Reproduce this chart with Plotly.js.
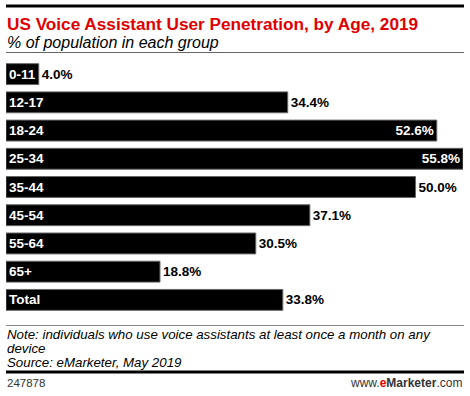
<!DOCTYPE html>
<html><head><meta charset="utf-8">
<script src="https://cdn.plot.ly/plotly-3.0.1.min.js"></script>
<style>html,body{margin:0;padding:0;background:#fff}</style>
</head><body><div id="chart" style="width:470px;height:396px"></div>
<script>
var categories = ["0-11","12-17","18-24","25-34","35-44","45-54","55-64","65+","Total"];
var values = [4.0,34.4,52.6,55.8,50.0,37.1,30.5,18.8,33.8];
var valueLabels = ["4.0%","34.4%","52.6%","55.8%","50.0%","37.1%","30.5%","18.8%","33.8%"];
var labelPos = ["outside","outside","inside","inside","outside","outside","outside","outside","outside"];
var noteLines = ["Note: individuals who use voice assistants at least once a month on any","device","Source: eMarketer, May 2019"];

var W = 470, H = 396;
function px(x){return x/W;}
function py(y){return 1 - y/H;}
var font = "Liberation Sans, Arial, sans-serif";

var trace = {
  type: "bar", orientation: "h",
  y: categories, x: values,
  text: valueLabels, textposition: labelPos,
  insidetextanchor: "end",
  insidetextfont: {color: "#fff", family: font, size: 13.5, weight: "bold"},
  outsidetextfont: {color: "#000", family: font, size: 13.5, weight: "bold"},
  textfont: {family: font, size: 13.5, weight: "bold"},
  cliponaxis: false,
  constraintext: "none",
  marker: {color: "#000", line: {color: "#666", width: 1}},
  hoverinfo: "none"
};

var annotations = categories.map(function(c){
  return {x: 0, y: c, xref: "x", yref: "y", text: "<b>" + c + "</b>", showarrow: false,
    xanchor: "left", xshift: 1, font: {family: font, size: 13.5, color: "#fff"}};
});
annotations.push(
  {x: px(5), y: py(23.5), xref: "paper", yref: "paper", xanchor: "left", yanchor: "middle", showarrow: false,
   text: "<b>US Voice Assistant User Penetration, by Age, 2019</b>", font: {family: font, size: 17.2, color: "#e00000"}},
  {x: px(5), y: py(42.5), xref: "paper", yref: "paper", xanchor: "left", yanchor: "middle", showarrow: false,
   text: "<i>% of population in each group</i>", font: {family: font, size: 16, color: "#000"}},
  {x: px(5), y: py(383), xref: "paper", yref: "paper", xanchor: "left", yanchor: "middle", showarrow: false,
   text: "247878", font: {family: font, size: 11.5, color: "#333"}},
  {x: px(464), y: py(383), xref: "paper", yref: "paper", xanchor: "right", yanchor: "middle", showarrow: false,
   text: "www.<span style='color:#e00000'><b>e</b></span><b>Marketer</b>.com", font: {family: font, size: 12, color: "#333"}}
);
var noteY = [334, 348, 362];
noteLines.forEach(function(t, i){
  annotations.push({x: px(5), y: py(noteY[i]), xref: "paper", yref: "paper", xanchor: "left", yanchor: "middle",
    showarrow: false, text: "<i>" + t + "</i>", font: {family: font, size: 13.3, color: "#000"}});
});

var shapes = [
  {type: "line", xref: "paper", yref: "paper", x0: px(6), x1: px(464), y0: py(6), y1: py(6), line: {color: "#000", width: 3}},
  {type: "line", xref: "paper", yref: "paper", x0: px(6), x1: px(464), y0: py(52.5), y1: py(52.5), line: {color: "#666", width: 1}},
  {type: "line", xref: "paper", yref: "paper", x0: px(6), x1: px(464), y0: py(325.5), y1: py(325.5), line: {color: "#888", width: 1}},
  {type: "line", xref: "paper", yref: "paper", x0: px(6), x1: px(464), y0: py(372), y1: py(372), line: {color: "#000", width: 3}}
];

var layout = {
  width: W, height: H,
  margin: {l: 0, r: 0, t: 0, b: 0},
  paper_bgcolor: "#fff", plot_bgcolor: "#fff",
  showlegend: false,
  bargap: 0.26,
  xaxis: {domain: [px(6), px(463)], range: [0, 55.8], visible: false, fixedrange: true},
  yaxis: {domain: [py(314), py(60)], autorange: "reversed", visible: false, fixedrange: true, type: "category"},
  annotations: annotations,
  shapes: shapes
};

Plotly.newPlot("chart", [trace], layout, {staticPlot: true, displayModeBar: false});
</script></body></html>
